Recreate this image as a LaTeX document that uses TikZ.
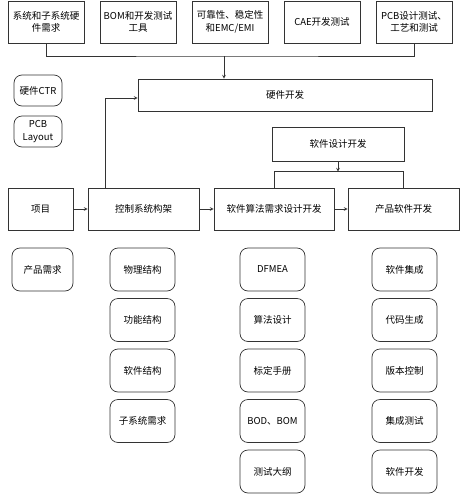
\documentclass[tikz,border=0pt]{standalone}
\usepackage{fontspec}
\setmainfont{Noto Sans CJK SC}
\usetikzlibrary{shapes.geometric, arrows}
\tikzstyle{spec} = [rectangle, minimum width=76pt, minimum height=42pt, text centered, align=center, draw=black!80, line width=0.7pt, inner sep=1pt, font=\fontsize{9.5}{12.5}\selectfont]
\tikzstyle{block} = [rectangle, minimum height=42pt, text centered, align=center, draw=black!80, line width=0.7pt, inner sep=1pt, font=\fontsize{9.5}{12.5}\selectfont]
\tikzstyle{task} = [rectangle, rounded corners=8pt, minimum width=65pt, minimum height=43pt, text centered, align=center, draw=black!80, line width=0.7pt, inner sep=1pt, font=\fontsize{9.5}{12.5}\selectfont]
\tikzstyle{arrow} = [line width=0.7pt, draw=black!80, ->, >=stealth]

\begin{document}
\begin{tikzpicture}[x=1pt, y=1pt, node distance=50.5pt]
\useasboundingbox (0,0) rectangle (461,-496);

% Hardware inputs
\node (T1) [spec] at (46,-22) {系统和子系统硬\\件需求};
\node (T2) [spec] at (138,-22) {BOM和开发测试\\工具};
\node (T3) [spec] at (230,-22) {可靠性、稳定性\\和EMC/EMI};
\node (T4) [spec] at (322,-22) {CAE开发测试};
\node (T5) [spec] at (414,-22) {PCB设计测试、\\工艺和测试};

\node (HW) [block, minimum width=294pt, minimum height=32pt] at (285,-95) {硬件开发};
\node (L1) [task, minimum width=48pt, minimum height=31pt] at (38,-90.5) {硬件CTR};
\node (L2) [task, minimum width=48pt, minimum height=31pt] at (38,-131.5) {PCB\\Layout};

\node (SW) [block, minimum width=132pt, minimum height=34pt] at (338,-144) {软件设计开发};

% Main flow
\node (P) [block, minimum width=65pt] at (40.5,-209) {项目};
\node (C) [block, minimum width=111pt] at (143.5,-209) {控制系统构架};
\node (A) [block, minimum width=120pt] at (274,-209) {软件算法需求设计开发};
\node (D) [block, minimum width=111pt] at (403.5,-209) {产品软件开发};

% Work items
\node (R0) [task, minimum width=61pt] at (42.5,-269.5) {产品需求};

\node (C1) [task] at (142.5,-269.5) {物理结构};
\node (C2) [task, below of=C1] {功能结构};
\node (C3) [task, below of=C2] {软件结构};
\node (C4) [task, below of=C3] {子系统需求};

\node (A1) [task] at (272.5,-269.5) {DFMEA};
\node (A2) [task, below of=A1] {算法设计};
\node (A3) [task, below of=A2] {标定手册};
\node (A4) [task, below of=A3] {BOD、BOM};
\node (A5) [task, below of=A4] {测试大纲};

\node (D1) [task] at (404.5,-269.5) {软件集成};
\node (D2) [task, below of=D1] {代码生成};
\node (D3) [task, below of=D2] {版本控制};
\node (D4) [task, below of=D3] {集成测试};
\node (D5) [task, below of=D4] {软件开发};

% Connecting arrows
\coordinate (bus) at (224,-56);
\draw [line width=0.7pt, black!80] (T1.south) |- (bus) -| (T5.south);
\draw [arrow] (bus) -- (bus |- HW.north);
\draw [arrow] ([xshift=-38.5pt]C.north) |- ([yshift=-3pt]HW.west);

\draw [arrow] (P) -- (C);
\draw [arrow] (C) -- (A);
\draw [arrow] (A) -- (D);

\coordinate (fork) at ([yshift=16pt]A.north);
\draw [line width=0.7pt, black!80] (A.north) -- (fork) -| (D.north);
\draw [arrow] (SW.south) -- (SW.south |- fork);

\end{tikzpicture}
\end{document}
